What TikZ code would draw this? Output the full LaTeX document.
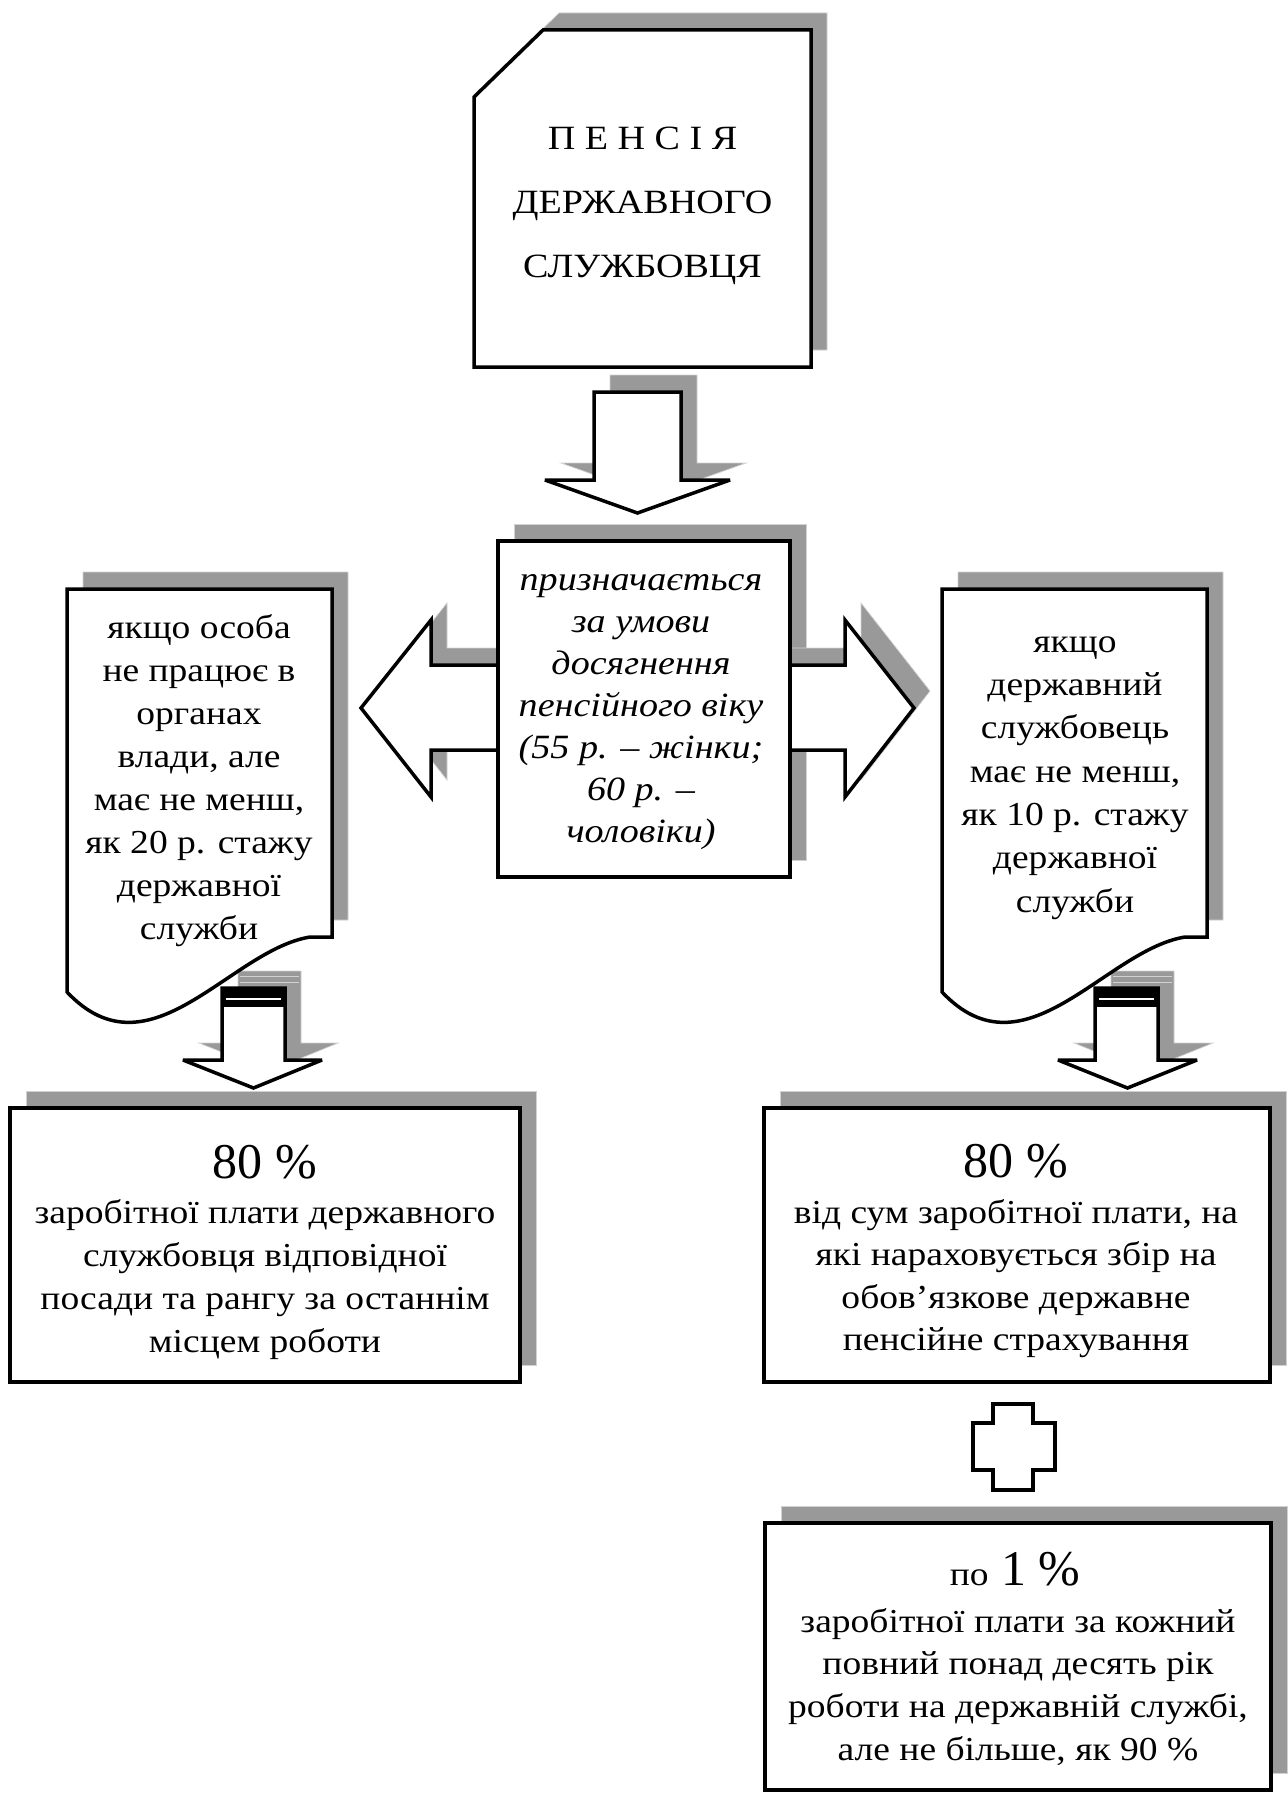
\documentclass[tikz,border=0pt]{standalone}
\usepackage{fontspec}
% body text is set slightly widened; the large figures are set plain
\setmainfont{Liberation Serif}[FakeStretch=1.12]
\newfontfamily\plainserif{Liberation Serif}
\definecolor{shade}{HTML}{999999}
% invisible rule fixing the height of a block's first line
\newcommand\lnstrut{\rule{0pt}{30pt}}
% outlines of the shapes (1 unit = 1pt, y grows downwards)
\newcommand\shpTitle{(543,30) -- (811,30) -- (811,367) -- (474,367) -- (474,97) -- cycle}
\newcommand\shpDown{(594,392) -- (681,392) -- (681,480) -- (730,480) -- (637.5,513) -- (545,480) -- (594,480) -- cycle}
\newcommand\shpCond{(498,541) rectangle (790,877)}
\newcommand\shpBoth{(361,708) -- (431,620) -- (431,665) -- (845,665) -- (845,620) -- (914,708) -- (845,797) -- (845,750) -- (431,750) -- (431,797) -- cycle}
\newcommand\shpDocL{(67,589) -- (332,589) -- (332,937) -- (310,937) .. controls (230,950) and (150,1080) .. (67,992) -- cycle}
\newcommand\shpDocR{(942,589) -- (1207,589) -- (1207,937) -- (1185,937) .. controls (1105,950) and (1025,1080) .. (942,992) -- cycle}
\newcommand\shpArrL{(222,988) -- (285,988) -- (285,1060) -- (322,1060) -- (253.5,1088) -- (183,1060) -- (222,1060) -- cycle}
\newcommand\shpArrR{(1095,988) -- (1158,988) -- (1158,1060) -- (1197,1060) -- (1127.5,1088) -- (1058,1060) -- (1095,1060) -- cycle}
\newcommand\shpBoxL{(10,1108) rectangle (520,1382)}
\newcommand\shpBoxR{(764,1108) rectangle (1270,1382)}
\newcommand\shpBoxB{(765,1523) rectangle (1271,1790)}
\begin{document}
\begin{tikzpicture}[x=1pt,y=-1pt,
  outline/.style={draw=black,line width=3.5pt,fill=white,miter limit=5},
  shadowfill/.style={fill=shade,draw=shade!45!white,line width=0.7pt},
  txt/.style={inner sep=0pt,anchor=north,align=center,font=\fontsize{33.5}{43}\selectfont},
  big/.style={inner sep=0pt,anchor=base,font=\plainserif\fontsize{50}{60}\selectfont},
  stripe/.style={draw=white,line width=1.5pt},
  shadowstripe/.style={draw=shade!45!white,line width=0.8pt}]
\useasboundingbox (0,0) rectangle (1287,1798);

% drop shadows
\begin{scope}[shift={(16,-17)}]
  \path[shadowfill] \shpTitle;
  \path[shadowfill] \shpDown;
  \path[shadowfill] \shpCond;
  \path[shadowfill] \shpBoth;
  \path[shadowfill] \shpDocL;
  \path[shadowfill] \shpDocR;
  \path[shadowfill] \shpArrL;
  \path[shadowfill] \shpArrR;
  \path[shadowfill] \shpBoxL;
  \path[shadowfill] \shpBoxR;
  \path[shadowfill] \shpBoxB;
  \draw[shadowstripe] (224,993) -- (283,993) (224,999) -- (283,999);
  \draw[shadowstripe] (1097,993) -- (1156,993) (1097,999) -- (1156,999);
\end{scope}

% title
\path[outline] \shpTitle;
\node[inner sep=0pt,anchor=north,align=center,font=\fontsize{34}{64}\selectfont]
  (title) at (642.5,119) {\lnstrut П Е Н С І Я\\ДЕРЖАВНОГО\\СЛУЖБОВЦЯ};

% arrow from the title
\path[outline] \shpDown;

% two-way arrow and the condition box over it
\path[outline] \shpBoth;
\path[outline] \shpCond;
\node[txt,font=\fontsize{34}{42}\selectfont\itshape] (cond) at (641,560)
  {\lnstrut призначається\\за умови\\досягнення\\пенсійного віку\\(55 р. – жінки;\\60 р. –\\чоловіки)};

% the two cases
\path[outline] \shpDocL;
\node[txt] (caseL) at (199,608)
  {\lnstrut якщо особа\\не працює в\\органах\\влади, але\\має не менш,\\як 20 р. стажу\\державної\\служби};
\path[outline] \shpDocR;
\node[txt,font=\fontsize{33.5}{43.3}\selectfont] (caseR) at (1075,622)
  {\lnstrut якщо\\державний\\службовець\\має не менш,\\як 10 р. стажу\\державної\\служби};

% striped arrows below the cases
\path[outline] \shpArrL;
\fill[black] (222,988) rectangle (285,1007);
\draw[stripe] (226,999) -- (281,999);
\path[outline] \shpArrR;
\fill[black] (1095,988) rectangle (1158,1007);
\draw[stripe] (1099,999) -- (1154,999);

% results
\path[outline] \shpBoxL;
\node[big] (pctL) at (265,1178) {80 \%};
\node[txt] (resL) at (265,1193)
  {\lnstrut заробітної плати державного\\службовця відповідної\\посади та рангу за останнім\\місцем роботи};
\path[outline] \shpBoxR;
\node[big] (pctR) at (1016,1177) {80 \%};
\node[txt,font=\fontsize{33.5}{42.5}\selectfont] (resR) at (1016,1193)
  {\lnstrut від сум заробітної плати, на\\які нараховується збір на\\обов’язкове державне\\пенсійне страхування};

% plus sign
\path[outline,line width=3.2pt] (993,1404) -- (1033,1404) -- (1033,1423) -- (1055,1423) -- (1055,1470)
  -- (1033,1470) -- (1033,1490) -- (993,1490) -- (993,1470) -- (973,1470) -- (973,1423) -- (993,1423) -- cycle;

% supplement
\path[outline] \shpBoxB;
\node[big] (pctB) at (1015,1585) {{\rmfamily\fontsize{33.5}{40}\selectfont по} 1 \%};
\node[txt,font=\fontsize{33.5}{42.7}\selectfont] (resB) at (1018,1602)
  {\lnstrut заробітної плати за кожний\\повний понад десять рік\\роботи на державній службі,\\але не більше, як 90 \%};
\end{tikzpicture}
\end{document}
